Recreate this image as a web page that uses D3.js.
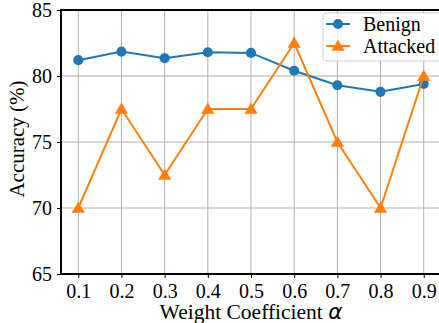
<!DOCTYPE html>
<html>
<head>
<meta charset="utf-8">
<script src="https://cdn.jsdelivr.net/npm/d3@7"></script>
<style>
  body { margin: 0; background: #fff; }
  svg { display: block; font-family: "Liberation Serif", "DejaVu Serif", serif; }
</style>
</head>
<body>
<div id="chart"></div>
<script>
const alphas = [0.1, 0.2, 0.3, 0.4, 0.5, 0.6, 0.7, 0.8, 0.9];
const benign = [81.2, 81.85, 81.35, 81.8, 81.75, 80.4, 79.3, 78.8, 79.4];
const attacked = [70, 77.5, 72.5, 77.5, 77.5, 82.5, 75, 70, 80];
const yTicks = [65, 70, 75, 80, 85];

const width = 439, height = 323;
const margin = {top: 10, right: -2, bottom: 49, left: 61};

const svg = d3.select('#chart').append('svg')
    .attr('width', width)
    .attr('height', height);

const x = d3.scaleLinear()
    .domain([0.06, 0.94])
    .range([margin.left, width - margin.right]);

const y = d3.scaleLinear()
    .domain([65, 85])
    .range([height - margin.bottom, margin.top]);

// grid
svg.append('g')
    .selectAll('line')
    .data(alphas)
    .join('line')
    .attr('x1', d => x(d)).attr('x2', d => x(d))
    .attr('y1', y(65)).attr('y2', y(85))
    .attr('stroke', '#b0b0b0').attr('stroke-width', 1);

svg.append('g')
    .selectAll('line')
    .data(yTicks)
    .join('line')
    .attr('x1', x(0.06)).attr('x2', x(0.94))
    .attr('y1', d => y(d)).attr('y2', d => y(d))
    .attr('stroke', '#b0b0b0').attr('stroke-width', 1);

// axes
const xAxis = d3.axisBottom(x).tickValues(alphas).tickFormat(d3.format('.1f')).tickSizeOuter(0).tickSize(4).tickPadding(6);
const yAxis = d3.axisLeft(y).tickValues(yTicks).tickSizeOuter(0).tickSize(4).tickPadding(5);

const gx = svg.append('g')
    .attr('transform', `translate(0,${y(65)})`)
    .call(xAxis);
const gy = svg.append('g')
    .attr('transform', `translate(${x(0.06)},0)`)
    .call(yAxis);

[gx, gy].forEach(g => {
    g.select('.domain').remove();
    g.selectAll('line').attr('stroke', '#000').attr('stroke-width', 1);
    g.selectAll('text').attr('font-size', 20).attr('fill', '#000')
        .attr('font-family', '"Liberation Serif", serif');
});

// spines
svg.append('rect')
    .attr('x', x(0.06)).attr('y', y(85))
    .attr('width', x(0.94) - x(0.06))
    .attr('height', y(65) - y(85))
    .attr('fill', 'none').attr('stroke', '#000').attr('stroke-width', 2);

// series
const series = [
    {name: 'Benign', values: benign, color: '#1f77b4', marker: 'circle'},
    {name: 'Attacked', values: attacked, color: '#ff7f0e', marker: 'triangle'}
];

const line = d3.line()
    .x((d, i) => x(alphas[i]))
    .y(d => y(d));

series.forEach(s => {
    svg.append('path')
        .datum(s.values)
        .attr('d', line)
        .attr('fill', 'none')
        .attr('stroke', s.color)
        .attr('stroke-width', 2);

    const sym = d3.symbol()
        .type(s.marker === 'circle' ? d3.symbolCircle : d3.symbolTriangle)
        .size(s.marker === 'circle' ? 80 : 75);

    svg.append('g')
        .selectAll('path')
        .data(s.values)
        .join('path')
        .attr('d', sym)
        .attr('transform', (d, i) => `translate(${x(alphas[i])},${y(d) + (s.marker === 'circle' ? 0 : 1)})`)
        .attr('fill', s.color);
});

// legend
const lg = svg.append('g').attr('transform', 'translate(323,13)');
lg.append('rect')
    .attr('width', 122).attr('height', 48).attr('rx', 3)
    .attr('fill', 'rgba(255,255,255,0.8)')
    .attr('stroke', '#d0d0d0').attr('stroke-width', 1);

series.forEach((s, i) => {
    const yy = 11 + i * 22;
    lg.append('line')
        .attr('x1', 3).attr('x2', 27)
        .attr('y1', yy).attr('y2', yy)
        .attr('stroke', s.color).attr('stroke-width', 2);
    lg.append('path')
        .attr('d', d3.symbol().type(s.marker === 'circle' ? d3.symbolCircle : d3.symbolTriangle).size(s.marker === 'circle' ? 80 : 75))
        .attr('transform', `translate(15,${yy + (s.marker === 'circle' ? 0 : 1)})`)
        .attr('fill', s.color);
    lg.append('text')
        .attr('x', 40).attr('y', yy + 7)
        .attr('font-size', 20)
        .attr('fill', '#000')
        .text(s.name);
});

// axis labels
svg.append('text')
    .attr('x', (x(0.06) + x(0.94)) / 2)
    .attr('y', 319)
    .attr('text-anchor', 'middle')
    .attr('font-size', 21.5)
    .attr('fill', '#000')
    .call(t => {
        t.append('tspan').text('Weight Coefficient ');
        t.append('tspan').attr('font-style', 'italic').attr('font-family', '"DejaVu Sans", sans-serif').text('α');
    });

svg.append('text')
    .attr('transform', `translate(24,${(y(65) + y(85)) / 2 - 3}) rotate(-90)`)
    .attr('text-anchor', 'middle')
    .attr('font-size', 21)
    .attr('fill', '#000')
    .text('Accuracy (%)');
</script>
</body>
</html>
